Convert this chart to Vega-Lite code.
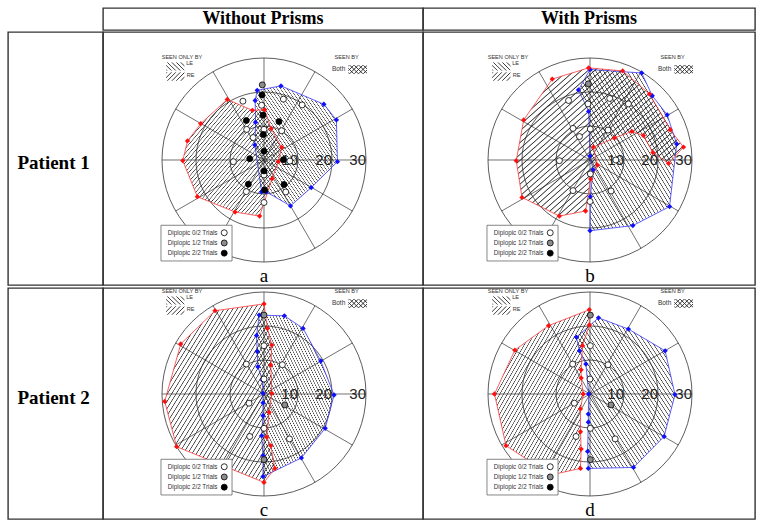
{
"$schema": "https://vega.github.io/schema/vega-lite/v6.json",
"padding": {"left": 7, "top": 7, "right": 0, "bottom": 0},
"background": "white",
"spacing": 0,
"config": {
 "view": {"stroke": "#333", "strokeWidth": 1.4},
 "axis": {"disable": true},
 "legend": {"disable": true},
 "concat": {"spacing": 0},
 "text": {"font": "Liberation Sans"},
 "style": {
  "hatchLE": {"fill": {"gradient": "linear", "x1": 0, "y1": 1, "x2": 1, "y2": 0, "stops": [
{"offset":0,"color":"transparent"},{"offset":0.0035,"color":"#333"},{"offset":0.007,"color":"transparent"},
{"offset":0.02,"color":"transparent"},{"offset":0.0235,"color":"#333"},{"offset":0.027,"color":"transparent"},
{"offset":0.04,"color":"transparent"},{"offset":0.0435,"color":"#333"},{"offset":0.047,"color":"transparent"},
{"offset":0.06,"color":"transparent"},{"offset":0.0635,"color":"#333"},{"offset":0.067,"color":"transparent"},
{"offset":0.08,"color":"transparent"},{"offset":0.0835,"color":"#333"},{"offset":0.087,"color":"transparent"},
{"offset":0.1,"color":"transparent"},{"offset":0.1035,"color":"#333"},{"offset":0.107,"color":"transparent"},
{"offset":0.12,"color":"transparent"},{"offset":0.1235,"color":"#333"},{"offset":0.127,"color":"transparent"},
{"offset":0.14,"color":"transparent"},{"offset":0.1435,"color":"#333"},{"offset":0.147,"color":"transparent"},
{"offset":0.16,"color":"transparent"},{"offset":0.1635,"color":"#333"},{"offset":0.167,"color":"transparent"},
{"offset":0.18,"color":"transparent"},{"offset":0.1835,"color":"#333"},{"offset":0.187,"color":"transparent"},
{"offset":0.2,"color":"transparent"},{"offset":0.2035,"color":"#333"},{"offset":0.207,"color":"transparent"},
{"offset":0.22,"color":"transparent"},{"offset":0.2235,"color":"#333"},{"offset":0.227,"color":"transparent"},
{"offset":0.24,"color":"transparent"},{"offset":0.2435,"color":"#333"},{"offset":0.247,"color":"transparent"},
{"offset":0.26,"color":"transparent"},{"offset":0.2635,"color":"#333"},{"offset":0.267,"color":"transparent"},
{"offset":0.28,"color":"transparent"},{"offset":0.2835,"color":"#333"},{"offset":0.287,"color":"transparent"},
{"offset":0.3,"color":"transparent"},{"offset":0.3035,"color":"#333"},{"offset":0.307,"color":"transparent"},
{"offset":0.32,"color":"transparent"},{"offset":0.3235,"color":"#333"},{"offset":0.327,"color":"transparent"},
{"offset":0.34,"color":"transparent"},{"offset":0.3435,"color":"#333"},{"offset":0.347,"color":"transparent"},
{"offset":0.36,"color":"transparent"},{"offset":0.3635,"color":"#333"},{"offset":0.367,"color":"transparent"},
{"offset":0.38,"color":"transparent"},{"offset":0.3835,"color":"#333"},{"offset":0.387,"color":"transparent"},
{"offset":0.4,"color":"transparent"},{"offset":0.4035,"color":"#333"},{"offset":0.407,"color":"transparent"},
{"offset":0.42,"color":"transparent"},{"offset":0.4235,"color":"#333"},{"offset":0.427,"color":"transparent"},
{"offset":0.44,"color":"transparent"},{"offset":0.4435,"color":"#333"},{"offset":0.447,"color":"transparent"},
{"offset":0.46,"color":"transparent"},{"offset":0.4635,"color":"#333"},{"offset":0.467,"color":"transparent"},
{"offset":0.48,"color":"transparent"},{"offset":0.4835,"color":"#333"},{"offset":0.487,"color":"transparent"},
{"offset":0.5,"color":"transparent"},{"offset":0.5035,"color":"#333"},{"offset":0.507,"color":"transparent"},
{"offset":0.52,"color":"transparent"},{"offset":0.5235,"color":"#333"},{"offset":0.527,"color":"transparent"},
{"offset":0.54,"color":"transparent"},{"offset":0.5435,"color":"#333"},{"offset":0.547,"color":"transparent"},
{"offset":0.56,"color":"transparent"},{"offset":0.5635,"color":"#333"},{"offset":0.567,"color":"transparent"},
{"offset":0.58,"color":"transparent"},{"offset":0.5835,"color":"#333"},{"offset":0.587,"color":"transparent"},
{"offset":0.6,"color":"transparent"},{"offset":0.6035,"color":"#333"},{"offset":0.607,"color":"transparent"},
{"offset":0.62,"color":"transparent"},{"offset":0.6235,"color":"#333"},{"offset":0.627,"color":"transparent"},
{"offset":0.64,"color":"transparent"},{"offset":0.6435,"color":"#333"},{"offset":0.647,"color":"transparent"},
{"offset":0.66,"color":"transparent"},{"offset":0.6635,"color":"#333"},{"offset":0.667,"color":"transparent"},
{"offset":0.68,"color":"transparent"},{"offset":0.6835,"color":"#333"},{"offset":0.687,"color":"transparent"},
{"offset":0.7,"color":"transparent"},{"offset":0.7035,"color":"#333"},{"offset":0.707,"color":"transparent"},
{"offset":0.72,"color":"transparent"},{"offset":0.7235,"color":"#333"},{"offset":0.727,"color":"transparent"},
{"offset":0.74,"color":"transparent"},{"offset":0.7435,"color":"#333"},{"offset":0.747,"color":"transparent"},
{"offset":0.76,"color":"transparent"},{"offset":0.7635,"color":"#333"},{"offset":0.767,"color":"transparent"},
{"offset":0.78,"color":"transparent"},{"offset":0.7835,"color":"#333"},{"offset":0.787,"color":"transparent"},
{"offset":0.8,"color":"transparent"},{"offset":0.8035,"color":"#333"},{"offset":0.807,"color":"transparent"},
{"offset":0.82,"color":"transparent"},{"offset":0.8235,"color":"#333"},{"offset":0.827,"color":"transparent"},
{"offset":0.84,"color":"transparent"},{"offset":0.8435,"color":"#333"},{"offset":0.847,"color":"transparent"},
{"offset":0.86,"color":"transparent"},{"offset":0.8635,"color":"#333"},{"offset":0.867,"color":"transparent"},
{"offset":0.88,"color":"transparent"},{"offset":0.8835,"color":"#333"},{"offset":0.887,"color":"transparent"},
{"offset":0.9,"color":"transparent"},{"offset":0.9035,"color":"#333"},{"offset":0.907,"color":"transparent"},
{"offset":0.92,"color":"transparent"},{"offset":0.9235,"color":"#333"},{"offset":0.927,"color":"transparent"},
{"offset":0.94,"color":"transparent"},{"offset":0.9435,"color":"#333"},{"offset":0.947,"color":"transparent"},
{"offset":0.96,"color":"transparent"},{"offset":0.9635,"color":"#333"},{"offset":0.967,"color":"transparent"},
{"offset":0.98,"color":"transparent"},{"offset":0.9835,"color":"#333"},{"offset":0.987,"color":"transparent"}]}},
  "hatchRE": {"fill": {"gradient": "linear", "x1": 0, "y1": 0, "x2": 1, "y2": 1, "stops": [
{"offset":0,"color":"transparent"},{"offset":0.0035,"color":"#333"},{"offset":0.007,"color":"transparent"},
{"offset":0.02,"color":"transparent"},{"offset":0.0235,"color":"#333"},{"offset":0.027,"color":"transparent"},
{"offset":0.04,"color":"transparent"},{"offset":0.0435,"color":"#333"},{"offset":0.047,"color":"transparent"},
{"offset":0.06,"color":"transparent"},{"offset":0.0635,"color":"#333"},{"offset":0.067,"color":"transparent"},
{"offset":0.08,"color":"transparent"},{"offset":0.0835,"color":"#333"},{"offset":0.087,"color":"transparent"},
{"offset":0.1,"color":"transparent"},{"offset":0.1035,"color":"#333"},{"offset":0.107,"color":"transparent"},
{"offset":0.12,"color":"transparent"},{"offset":0.1235,"color":"#333"},{"offset":0.127,"color":"transparent"},
{"offset":0.14,"color":"transparent"},{"offset":0.1435,"color":"#333"},{"offset":0.147,"color":"transparent"},
{"offset":0.16,"color":"transparent"},{"offset":0.1635,"color":"#333"},{"offset":0.167,"color":"transparent"},
{"offset":0.18,"color":"transparent"},{"offset":0.1835,"color":"#333"},{"offset":0.187,"color":"transparent"},
{"offset":0.2,"color":"transparent"},{"offset":0.2035,"color":"#333"},{"offset":0.207,"color":"transparent"},
{"offset":0.22,"color":"transparent"},{"offset":0.2235,"color":"#333"},{"offset":0.227,"color":"transparent"},
{"offset":0.24,"color":"transparent"},{"offset":0.2435,"color":"#333"},{"offset":0.247,"color":"transparent"},
{"offset":0.26,"color":"transparent"},{"offset":0.2635,"color":"#333"},{"offset":0.267,"color":"transparent"},
{"offset":0.28,"color":"transparent"},{"offset":0.2835,"color":"#333"},{"offset":0.287,"color":"transparent"},
{"offset":0.3,"color":"transparent"},{"offset":0.3035,"color":"#333"},{"offset":0.307,"color":"transparent"},
{"offset":0.32,"color":"transparent"},{"offset":0.3235,"color":"#333"},{"offset":0.327,"color":"transparent"},
{"offset":0.34,"color":"transparent"},{"offset":0.3435,"color":"#333"},{"offset":0.347,"color":"transparent"},
{"offset":0.36,"color":"transparent"},{"offset":0.3635,"color":"#333"},{"offset":0.367,"color":"transparent"},
{"offset":0.38,"color":"transparent"},{"offset":0.3835,"color":"#333"},{"offset":0.387,"color":"transparent"},
{"offset":0.4,"color":"transparent"},{"offset":0.4035,"color":"#333"},{"offset":0.407,"color":"transparent"},
{"offset":0.42,"color":"transparent"},{"offset":0.4235,"color":"#333"},{"offset":0.427,"color":"transparent"},
{"offset":0.44,"color":"transparent"},{"offset":0.4435,"color":"#333"},{"offset":0.447,"color":"transparent"},
{"offset":0.46,"color":"transparent"},{"offset":0.4635,"color":"#333"},{"offset":0.467,"color":"transparent"},
{"offset":0.48,"color":"transparent"},{"offset":0.4835,"color":"#333"},{"offset":0.487,"color":"transparent"},
{"offset":0.5,"color":"transparent"},{"offset":0.5035,"color":"#333"},{"offset":0.507,"color":"transparent"},
{"offset":0.52,"color":"transparent"},{"offset":0.5235,"color":"#333"},{"offset":0.527,"color":"transparent"},
{"offset":0.54,"color":"transparent"},{"offset":0.5435,"color":"#333"},{"offset":0.547,"color":"transparent"},
{"offset":0.56,"color":"transparent"},{"offset":0.5635,"color":"#333"},{"offset":0.567,"color":"transparent"},
{"offset":0.58,"color":"transparent"},{"offset":0.5835,"color":"#333"},{"offset":0.587,"color":"transparent"},
{"offset":0.6,"color":"transparent"},{"offset":0.6035,"color":"#333"},{"offset":0.607,"color":"transparent"},
{"offset":0.62,"color":"transparent"},{"offset":0.6235,"color":"#333"},{"offset":0.627,"color":"transparent"},
{"offset":0.64,"color":"transparent"},{"offset":0.6435,"color":"#333"},{"offset":0.647,"color":"transparent"},
{"offset":0.66,"color":"transparent"},{"offset":0.6635,"color":"#333"},{"offset":0.667,"color":"transparent"},
{"offset":0.68,"color":"transparent"},{"offset":0.6835,"color":"#333"},{"offset":0.687,"color":"transparent"},
{"offset":0.7,"color":"transparent"},{"offset":0.7035,"color":"#333"},{"offset":0.707,"color":"transparent"},
{"offset":0.72,"color":"transparent"},{"offset":0.7235,"color":"#333"},{"offset":0.727,"color":"transparent"},
{"offset":0.74,"color":"transparent"},{"offset":0.7435,"color":"#333"},{"offset":0.747,"color":"transparent"},
{"offset":0.76,"color":"transparent"},{"offset":0.7635,"color":"#333"},{"offset":0.767,"color":"transparent"},
{"offset":0.78,"color":"transparent"},{"offset":0.7835,"color":"#333"},{"offset":0.787,"color":"transparent"},
{"offset":0.8,"color":"transparent"},{"offset":0.8035,"color":"#333"},{"offset":0.807,"color":"transparent"},
{"offset":0.82,"color":"transparent"},{"offset":0.8235,"color":"#333"},{"offset":0.827,"color":"transparent"},
{"offset":0.84,"color":"transparent"},{"offset":0.8435,"color":"#333"},{"offset":0.847,"color":"transparent"},
{"offset":0.86,"color":"transparent"},{"offset":0.8635,"color":"#333"},{"offset":0.867,"color":"transparent"},
{"offset":0.88,"color":"transparent"},{"offset":0.8835,"color":"#333"},{"offset":0.887,"color":"transparent"},
{"offset":0.9,"color":"transparent"},{"offset":0.9035,"color":"#333"},{"offset":0.907,"color":"transparent"},
{"offset":0.92,"color":"transparent"},{"offset":0.9235,"color":"#333"},{"offset":0.927,"color":"transparent"},
{"offset":0.94,"color":"transparent"},{"offset":0.9435,"color":"#333"},{"offset":0.947,"color":"transparent"},
{"offset":0.96,"color":"transparent"},{"offset":0.9635,"color":"#333"},{"offset":0.967,"color":"transparent"},
{"offset":0.98,"color":"transparent"},{"offset":0.9835,"color":"#333"},{"offset":0.987,"color":"transparent"}]}}
 }
},
"datasets": {
 "one": [{}],
 "rings": [{"r": 10}, {"r": 20}, {"r": 30}],
 "spokes": [
  {"x": 30, "y": 0, "x2": -30, "y2": 0},
  {"x": 25.98, "y": 15, "x2": -25.98, "y2": -15},
  {"x": 15, "y": 25.98, "x2": -15, "y2": -25.98},
  {"x": 0, "y": 30, "x2": 0, "y2": -30},
  {"x": -15, "y": 25.98, "x2": 15, "y2": -25.98},
  {"x": -25.98, "y": 15, "x2": 25.98, "y2": -15}
 ],
 "a": [
  {"s":"LE","x":-2.0,"y":20.5},{"s":"LE","x":5.0,"y":21.8},{"s":"LE","x":17.6,"y":16.4},{"s":"LE","x":21.3,"y":11.8},{"s":"LE","x":21.6,"y":-0.5},{"s":"LE","x":13.9,"y":-8.1},{"s":"LE","x":7.8,"y":-13.5},{"s":"LE","x":0.7,"y":-9.4},{"s":"LE","x":-0.7,"y":-9.4},{"s":"LE","x":-2.7,"y":4.4},{"s":"LE","x":-2.5,"y":11.1},{"s":"LE","x":-2.6,"y":17.5},
  {"s":"RE","x":-10.8,"y":17.8},{"s":"RE","x":-3.4,"y":14.6},{"s":"RE","x":0.2,"y":14.8},{"s":"RE","x":2.1,"y":9.2},{"s":"RE","x":5.2,"y":3.7},{"s":"RE","x":4.2,"y":-0.5},{"s":"RE","x":2.4,"y":-5.5},{"s":"RE","x":-1.3,"y":-16.5},{"s":"RE","x":-8.5,"y":-15.3},{"s":"RE","x":-19.6,"y":-10.8},{"s":"RE","x":-23.9,"y":-0.2},{"s":"RE","x":-22.5,"y":5.6},{"s":"RE","x":-18.6,"y":10.7},
  {"s":"T","x":-6.2,"y":17.3,"d":"0/2"},{"s":"T","x":-0.7,"y":16.1,"d":"0/2"},{"s":"T","x":5.7,"y":17.9,"d":"0/2"},{"s":"T","x":11.2,"y":16.2,"d":"0/2"},{"s":"T","x":-5.1,"y":9.0,"d":"0/2"},{"s":"T","x":0,"y":9.0,"d":"0/2"},{"s":"T","x":5.2,"y":8.6,"d":"0/2"},{"s":"T","x":-3.2,"y":6.6,"d":"0/2"},{"s":"T","x":-9.0,"y":-0.5,"d":"0/2"},{"s":"T","x":7.6,"y":-0.3,"d":"0/2"},{"s":"T","x":0,"y":-4.4,"d":"0/2"},{"s":"T","x":-5.2,"y":-9.3,"d":"0/2"},{"s":"T","x":6.4,"y":-9.4,"d":"0/2"},{"s":"T","x":0,"y":-12.5,"d":"0/2"},
  {"s":"T","x":-0.5,"y":22.1,"d":"1/2"},
  {"s":"T","x":-0.6,"y":19.1,"d":"2/2"},{"s":"T","x":-0.3,"y":13.2,"d":"2/2"},{"s":"T","x":-5.2,"y":11.6,"d":"2/2"},{"s":"T","x":4.4,"y":11.3,"d":"2/2"},{"s":"T","x":-0.2,"y":7.5,"d":"2/2"},{"s":"T","x":0,"y":2.6,"d":"2/2"},{"s":"T","x":-4.2,"y":0.4,"d":"2/2"},{"s":"T","x":5.7,"y":0.1,"d":"2/2"},{"s":"T","x":0,"y":-3.2,"d":"2/2"},{"s":"T","x":-4.6,"y":-7.1,"d":"2/2"},{"s":"T","x":5.9,"y":-7.2,"d":"2/2"},{"s":"T","x":0.2,"y":-8.8,"d":"2/2"}
 ],
 "b": [
  {"s":"LE","x":0,"y":26.6},{"s":"LE","x":15.2,"y":25.6},{"s":"LE","x":18.3,"y":18.9},{"s":"LE","x":22.7,"y":13.3},{"s":"LE","x":25.5,"y":4.7},{"s":"LE","x":23.4,"y":-13.7},{"s":"LE","x":12.6,"y":-19.3},{"s":"LE","x":0,"y":-20.8},{"s":"LE","x":0.1,"y":-10.8},{"s":"LE","x":0.9,"y":-2.9},{"s":"LE","x":0,"y":1.2},{"s":"LE","x":-0.4,"y":14.3},{"s":"LE","x":-3.4,"y":20.6},
  {"s":"RE","x":-0.4,"y":27.1},{"s":"RE","x":9.6,"y":26.2},{"s":"RE","x":17.5,"y":19.4},{"s":"RE","x":23.6,"y":8.9},{"s":"RE","x":27.5,"y":3.8},{"s":"RE","x":23.1,"y":-1.0},{"s":"RE","x":18.5,"y":2.2},{"s":"RE","x":15.7,"y":7.2},{"s":"RE","x":12.3,"y":8.4},{"s":"RE","x":7.2,"y":6.5},{"s":"RE","x":1.0,"y":3.8},{"s":"RE","x":2.2,"y":-1.5},{"s":"RE","x":0.2,"y":-5.6},{"s":"RE","x":-1.3,"y":-15.0},{"s":"RE","x":-9.0,"y":-16.5},{"s":"RE","x":-20.0,"y":-11.0},{"s":"RE","x":-21.7,"y":-0.2},{"s":"RE","x":-19.5,"y":11.8},{"s":"RE","x":-11.1,"y":23.8},
  {"s":"T","x":-6.3,"y":17.5,"d":"0/2"},{"s":"T","x":-0.6,"y":16.5,"d":"0/2"},{"s":"T","x":5.8,"y":18.1,"d":"0/2"},{"s":"T","x":11.3,"y":16.5,"d":"0/2"},{"s":"T","x":-5.0,"y":9.3,"d":"0/2"},{"s":"T","x":0.1,"y":9.1,"d":"0/2"},{"s":"T","x":5.3,"y":8.8,"d":"0/2"},{"s":"T","x":-3.1,"y":6.9,"d":"0/2"},{"s":"T","x":-9.0,"y":-0.2,"d":"0/2"},{"s":"T","x":7.6,"y":0,"d":"0/2"},{"s":"T","x":0.1,"y":-4.1,"d":"0/2"},{"s":"T","x":-5.0,"y":-9.0,"d":"0/2"},{"s":"T","x":6.2,"y":-9.1,"d":"0/2"},{"s":"T","x":0,"y":-12.2,"d":"0/2"},
  {"s":"T","x":-0.5,"y":22.4,"d":"1/2"}
 ],
 "c": [
  {"s":"LE","x":-1.4,"y":23.2},{"s":"LE","x":6.0,"y":23.0},{"s":"LE","x":11.5,"y":19.3},{"s":"LE","x":16.7,"y":9.7},{"s":"LE","x":20.6,"y":-0.3},{"s":"LE","x":18.0,"y":-10.1},{"s":"LE","x":11.0,"y":-18.8},{"s":"LE","x":-0.3,"y":-24.3},{"s":"LE","x":-0.3,"y":-18.1},{"s":"LE","x":-0.7,"y":-12.3},{"s":"LE","x":-0.3,"y":-6.4},{"s":"LE","x":-0.3,"y":-2.6},{"s":"LE","x":-0.3,"y":0.2},{"s":"LE","x":-0.5,"y":4.1},{"s":"LE","x":-1.8,"y":8.0},{"s":"LE","x":-2.0,"y":12.5},{"s":"LE","x":-2.2,"y":17.2},
  {"s":"RE","x":0,"y":26.5},{"s":"RE","x":1.0,"y":19.3},{"s":"RE","x":2.3,"y":14.4},{"s":"RE","x":2.0,"y":8.5},{"s":"RE","x":2.3,"y":0.2},{"s":"RE","x":1.5,"y":-5.4},{"s":"RE","x":0.8,"y":-12.7},{"s":"RE","x":2.0,"y":-15.2},{"s":"RE","x":3.2,"y":-21.9},{"s":"RE","x":0,"y":-26.0},{"s":"RE","x":-25.7,"y":-15.5},{"s":"RE","x":-29.2,"y":-2.2},{"s":"RE","x":-24.5,"y":14.7},{"s":"RE","x":-14.4,"y":24.5},
  {"s":"T","x":0,"y":23.2,"d":"1/2"},{"s":"T","x":0,"y":14.2,"d":"0/2"},{"s":"T","x":-5.2,"y":8.8,"d":"0/2"},{"s":"T","x":5.4,"y":8.6,"d":"0/2"},{"s":"T","x":0,"y":4.4,"d":"0/2"},{"s":"T","x":-4.4,"y":-2.7,"d":"0/2"},{"s":"T","x":6.1,"y":-3.2,"d":"1/2"},{"s":"T","x":0,"y":-10.1,"d":"0/2"},{"s":"T","x":-4.2,"y":-12.5,"d":"0/2"},{"s":"T","x":7.5,"y":-13.2,"d":"0/2"},{"s":"T","x":0,"y":-19.3,"d":"1/2"}
 ],
 "d": [
  {"s":"LE","x":2.5,"y":22.4},{"s":"LE","x":11.3,"y":19.1},{"s":"LE","x":22.1,"y":12.7},{"s":"LE","x":25.0,"y":-0.2},{"s":"LE","x":21.8,"y":-12.5},{"s":"LE","x":12.8,"y":-21.6},{"s":"LE","x":-0.5,"y":-21.9},{"s":"LE","x":-0.7,"y":-16.9},{"s":"LE","x":-0.5,"y":-8.3},{"s":"LE","x":-0.5,"y":-5.9},{"s":"LE","x":-0.4,"y":0},{"s":"LE","x":-1.2,"y":8.8},{"s":"LE","x":-3.1,"y":12.7},{"s":"LE","x":-4.0,"y":16.7},
  {"s":"RE","x":-0.2,"y":24.8},{"s":"RE","x":-0.2,"y":20.3},{"s":"RE","x":-2.2,"y":14.2},{"s":"RE","x":-2.6,"y":7.1},{"s":"RE","x":-2.6,"y":4.7},{"s":"RE","x":-2.0,"y":0},{"s":"RE","x":-2.8,"y":-4.4},{"s":"RE","x":-2.8,"y":-11.1},{"s":"RE","x":-2.6,"y":-16.2},{"s":"RE","x":-2.8,"y":-21.9},{"s":"RE","x":-11.5,"y":-23.8},{"s":"RE","x":-24.7,"y":-15.2},{"s":"RE","x":-28.1,"y":0},{"s":"RE","x":-22.1,"y":12.9},{"s":"RE","x":-12.2,"y":20.1},
  {"s":"T","x":0.1,"y":23.2,"d":"1/2"},{"s":"T","x":0.1,"y":14.2,"d":"0/2"},{"s":"T","x":-5.1,"y":8.8,"d":"0/2"},{"s":"T","x":5.3,"y":8.6,"d":"0/2"},{"s":"T","x":0,"y":4.4,"d":"0/2"},{"s":"T","x":-4.6,"y":-2.7,"d":"0/2"},{"s":"T","x":6.2,"y":-3.2,"d":"1/2"},{"s":"T","x":0.1,"y":-10.1,"d":"0/2"},{"s":"T","x":-4.1,"y":-12.5,"d":"0/2"},{"s":"T","x":7.4,"y":-13.2,"d":"0/2"},{"s":"T","x":0.1,"y":-19.3,"d":"1/2"}
 ]
},
"vconcat": [
 {"spacing": 0, "bounds": "flush", "hconcat": [
  {"width": 95, "height": 22, "data": {"name": "one"}, "mark": {"type": "text", "text": ""}, "encoding": {}},
  {"width": 320, "height": 22, "data": {"name": "one"}, "mark": {"type": "text", "text": "Without Prisms", "font": "Liberation Serif", "fontWeight": "bold", "fontSize": 18, "align": "center", "baseline": "middle"},
   "encoding": {"x": {"datum": 0.5, "type": "quantitative", "scale": {"domain": [0, 1]}}, "y": {"datum": 0.5, "type": "quantitative", "scale": {"domain": [0, 1]}}}},
  {"width": 332, "height": 22, "data": {"name": "one"}, "mark": {"type": "text", "text": "With Prisms", "font": "Liberation Serif", "fontWeight": "bold", "fontSize": 18, "align": "center", "baseline": "middle"},
   "encoding": {"x": {"datum": 0.5, "type": "quantitative", "scale": {"domain": [0, 1]}}, "y": {"datum": 0.5, "type": "quantitative", "scale": {"domain": [0, 1]}}}}
 ]},
 {"spacing": 0, "bounds": "flush", "hconcat": [
  {"width": 95, "height": 253, "data": {"name": "one"}, "mark": {"type": "text", "text": "Patient 1", "font": "Liberation Serif", "fontWeight": "bold", "fontSize": 19, "align": "center", "baseline": "middle"},
   "encoding": {"x": {"datum": 0.48, "type": "quantitative", "scale": {"domain": [0, 1]}}, "y": {"datum": 0.482, "type": "quantitative", "scale": {"domain": [0, 1]}}}},
  {"width": 320, "height": 253, "layer": [
   {"data": {"name": "rings"}, "mark": {"type": "point", "shape": "circle", "filled": false, "stroke": "#333", "strokeWidth": 0.8, "opacity": 1},
    "encoding": {"x": {"datum": 0, "type": "quantitative", "scale": {"domain": [-47.353, 46.765], "nice": false, "zero": false}}, "y": {"datum": 0, "type": "quantitative", "scale": {"domain": [-36.765, 37.647], "nice": false, "zero": false}}, "size": {"field": "r", "type": "quantitative", "scale": {"type": "pow", "exponent": 2, "domain": [0, 30], "range": [0, 41616]}}}},
   {"data": {"name": "spokes"}, "mark": {"type": "rule", "stroke": "#333", "strokeWidth": 0.7}, "encoding": {"x": {"field": "x", "type": "quantitative"}, "y": {"field": "y", "type": "quantitative"}, "x2": {"field": "x2"}, "y2": {"field": "y2"}}},
   {"data": {"name": "a"}, "transform": [{"filter": "datum.s == 'LE'"}], "mark": {"type": "line", "style": "hatchLE", "stroke": "#3a3aff", "strokeWidth": 0.8, "interpolate": "linear-closed"}, "encoding": {"x": {"field": "x", "type": "quantitative"}, "y": {"field": "y", "type": "quantitative"}, "order": {"value": null}}},
   {"data": {"name": "a"}, "transform": [{"filter": "datum.s == 'RE'"}], "mark": {"type": "line", "style": "hatchRE", "stroke": "#ff3a3a", "strokeWidth": 0.8, "interpolate": "linear-closed"}, "encoding": {"x": {"field": "x", "type": "quantitative"}, "y": {"field": "y", "type": "quantitative"}, "order": {"value": null}}},
   {"data": {"name": "a"}, "transform": [{"filter": "datum.s == 'LE'"}], "mark": {"type": "point", "shape": "diamond", "filled": true, "color": "#1010ff", "size": 28, "opacity": 1}, "encoding": {"x": {"field": "x", "type": "quantitative"}, "y": {"field": "y", "type": "quantitative"}}},
   {"data": {"name": "a"}, "transform": [{"filter": "datum.s == 'RE'"}], "mark": {"type": "point", "shape": "diamond", "filled": true, "color": "#ff1010", "size": 28, "opacity": 1}, "encoding": {"x": {"field": "x", "type": "quantitative"}, "y": {"field": "y", "type": "quantitative"}}},
   {"data": {"name": "rings"}, "mark": {"type": "text", "align": "right", "baseline": "middle", "fontSize": 15, "color": "#222"}, "encoding": {"x": {"field": "r", "type": "quantitative"}, "y": {"datum": 0, "type": "quantitative"}, "text": {"field": "r"}}},
   {"data": {"name": "a"}, "transform": [{"filter": "datum.s == 'T'"}], "mark": {"type": "point", "shape": "circle", "filled": true, "stroke": "#000", "strokeWidth": 0.8, "size": 36, "opacity": 1}, "encoding": {"x": {"field": "x", "type": "quantitative"}, "y": {"field": "y", "type": "quantitative"}, "fill": {"field": "d", "type": "nominal", "scale": {"domain": ["0/2", "1/2", "2/2"], "range": ["#ffffff", "#8c8c8c", "#000000"]}}}},
   {"data": {"name": "one"}, "mark": {"type": "text", "text": "SEEN ONLY BY", "align": "left", "baseline": "middle", "fontSize": 5.6, "color": "#333"}, "encoding": {"x": {"datum": -30.1, "type": "quantitative"}, "y": {"datum": 30.3, "type": "quantitative"}}},
   {"data": {"name": "one"}, "mark": {"type": "rect", "fill": {"gradient": "linear", "x1": 0, "y1": 1, "x2": 1.2, "y2": 0.45, "stops": [{"offset":0,"color":"transparent"},{"offset":0.033,"color":"#333"},{"offset":0.067,"color":"transparent"},{"offset":0.167,"color":"transparent"},{"offset":0.2,"color":"#333"},{"offset":0.233,"color":"transparent"},{"offset":0.333,"color":"transparent"},{"offset":0.367,"color":"#333"},{"offset":0.4,"color":"transparent"},{"offset":0.5,"color":"transparent"},{"offset":0.533,"color":"#333"},{"offset":0.567,"color":"transparent"},{"offset":0.667,"color":"transparent"},{"offset":0.7,"color":"#333"},{"offset":0.733,"color":"transparent"},{"offset":0.833,"color":"transparent"},{"offset":0.867,"color":"#333"},{"offset":0.9,"color":"transparent"}]}}, "encoding": {"x": {"datum": -28.8, "type": "quantitative"}, "x2": {"datum": -23.4}, "y": {"datum": 28.7, "type": "quantitative"}, "y2": {"datum": 26.3}}},
   {"data": {"name": "one"}, "mark": {"type": "text", "text": "LE", "align": "left", "baseline": "middle", "fontSize": 5.6, "color": "#333"}, "encoding": {"x": {"datum": -22.9, "type": "quantitative"}, "y": {"datum": 28.6, "type": "quantitative"}}},
   {"data": {"name": "one"}, "mark": {"type": "rect", "fill": {"gradient": "linear", "x1": 0, "y1": 0, "x2": 1.2, "y2": 0.55, "stops": [{"offset":0,"color":"transparent"},{"offset":0.033,"color":"#333"},{"offset":0.067,"color":"transparent"},{"offset":0.167,"color":"transparent"},{"offset":0.2,"color":"#333"},{"offset":0.233,"color":"transparent"},{"offset":0.333,"color":"transparent"},{"offset":0.367,"color":"#333"},{"offset":0.4,"color":"transparent"},{"offset":0.5,"color":"transparent"},{"offset":0.533,"color":"#333"},{"offset":0.567,"color":"transparent"},{"offset":0.667,"color":"transparent"},{"offset":0.7,"color":"#333"},{"offset":0.733,"color":"transparent"},{"offset":0.833,"color":"transparent"},{"offset":0.867,"color":"#333"},{"offset":0.9,"color":"transparent"}]}}, "encoding": {"x": {"datum": -28.8, "type": "quantitative"}, "x2": {"datum": -23.4}, "y": {"datum": 25.8, "type": "quantitative"}, "y2": {"datum": 23.3}}},
   {"data": {"name": "one"}, "mark": {"type": "text", "text": "RE", "align": "left", "baseline": "middle", "fontSize": 5.6, "color": "#333"}, "encoding": {"x": {"datum": -22.7, "type": "quantitative"}, "y": {"datum": 25.1, "type": "quantitative"}}},
   {"data": {"name": "one"}, "mark": {"type": "text", "text": "SEEN BY", "align": "center", "baseline": "middle", "fontSize": 5.6, "color": "#333"}, "encoding": {"x": {"datum": 24.3, "type": "quantitative"}, "y": {"datum": 30.2, "type": "quantitative"}}},
   {"data": {"name": "one"}, "mark": {"type": "text", "text": "Both", "align": "right", "baseline": "middle", "fontSize": 6.5, "color": "#333"}, "encoding": {"x": {"datum": 23.9, "type": "quantitative"}, "y": {"datum": 26.8, "type": "quantitative"}}},
   {"data": {"name": "one"}, "mark": {"type": "rect", "fill": {"gradient": "linear", "x1": 0, "y1": 1, "x2": 1.2, "y2": 0.45, "stops": [{"offset":0,"color":"transparent"},{"offset":0.033,"color":"#333"},{"offset":0.067,"color":"transparent"},{"offset":0.167,"color":"transparent"},{"offset":0.2,"color":"#333"},{"offset":0.233,"color":"transparent"},{"offset":0.333,"color":"transparent"},{"offset":0.367,"color":"#333"},{"offset":0.4,"color":"transparent"},{"offset":0.5,"color":"transparent"},{"offset":0.533,"color":"#333"},{"offset":0.567,"color":"transparent"},{"offset":0.667,"color":"transparent"},{"offset":0.7,"color":"#333"},{"offset":0.733,"color":"transparent"},{"offset":0.833,"color":"transparent"},{"offset":0.867,"color":"#333"},{"offset":0.9,"color":"transparent"}]}}, "encoding": {"x": {"datum": 24.8, "type": "quantitative"}, "x2": {"datum": 30.3}, "y": {"datum": 27.9, "type": "quantitative"}, "y2": {"datum": 25.4}}},
   {"data": {"name": "one"}, "mark": {"type": "rect", "fill": {"gradient": "linear", "x1": 0, "y1": 0, "x2": 1.2, "y2": 0.55, "stops": [{"offset":0,"color":"transparent"},{"offset":0.033,"color":"#333"},{"offset":0.067,"color":"transparent"},{"offset":0.167,"color":"transparent"},{"offset":0.2,"color":"#333"},{"offset":0.233,"color":"transparent"},{"offset":0.333,"color":"transparent"},{"offset":0.367,"color":"#333"},{"offset":0.4,"color":"transparent"},{"offset":0.5,"color":"transparent"},{"offset":0.533,"color":"#333"},{"offset":0.567,"color":"transparent"},{"offset":0.667,"color":"transparent"},{"offset":0.7,"color":"#333"},{"offset":0.733,"color":"transparent"},{"offset":0.833,"color":"transparent"},{"offset":0.867,"color":"#333"},{"offset":0.9,"color":"transparent"}]}}, "encoding": {"x": {"datum": 24.8, "type": "quantitative"}, "x2": {"datum": 30.3}, "y": {"datum": 27.9, "type": "quantitative"}, "y2": {"datum": 25.4}}},
   {"data": {"name": "one"}, "mark": {"type": "rect", "fill": "white", "stroke": "#666", "strokeWidth": 0.8}, "encoding": {"x": {"datum": -30.3, "type": "quantitative"}, "x2": {"datum": -9.4}, "y": {"datum": -19.2, "type": "quantitative"}, "y2": {"datum": -29.7}}},
   {"data": {"name": "one"}, "mark": {"type": "text", "text": "Diplopic 0/2 Trials", "align": "left", "baseline": "middle", "fontSize": 6.3, "color": "#333"}, "encoding": {"x": {"datum": -28.3, "type": "quantitative"}, "y": {"datum": -21.4, "type": "quantitative"}}},
   {"data": {"name": "one"}, "mark": {"type": "text", "text": "Diplopic 1/2 Trials", "align": "left", "baseline": "middle", "fontSize": 6.3, "color": "#333"}, "encoding": {"x": {"datum": -28.3, "type": "quantitative"}, "y": {"datum": -24.4, "type": "quantitative"}}},
   {"data": {"name": "one"}, "mark": {"type": "text", "text": "Diplopic 2/2 Trials", "align": "left", "baseline": "middle", "fontSize": 6.3, "color": "#333"}, "encoding": {"x": {"datum": -28.3, "type": "quantitative"}, "y": {"datum": -27.4, "type": "quantitative"}}},
   {"data": {"name": "one"}, "mark": {"type": "point", "shape": "circle", "filled": true, "fill": "#ffffff", "stroke": "#000", "strokeWidth": 0.8, "size": 36, "opacity": 1}, "encoding": {"x": {"datum": -11.7, "type": "quantitative"}, "y": {"datum": -21.4, "type": "quantitative"}}},
   {"data": {"name": "one"}, "mark": {"type": "point", "shape": "circle", "filled": true, "fill": "#8c8c8c", "stroke": "#000", "strokeWidth": 0.8, "size": 36, "opacity": 1}, "encoding": {"x": {"datum": -11.7, "type": "quantitative"}, "y": {"datum": -24.4, "type": "quantitative"}}},
   {"data": {"name": "one"}, "mark": {"type": "point", "shape": "circle", "filled": true, "fill": "#000000", "stroke": "#000", "strokeWidth": 0.8, "size": 36, "opacity": 1}, "encoding": {"x": {"datum": -11.7, "type": "quantitative"}, "y": {"datum": -27.4, "type": "quantitative"}}},
   {"data": {"name": "one"}, "mark": {"type": "text", "text": "a", "align": "center", "baseline": "middle", "fontSize": 19, "font": "Liberation Serif", "color": "#000"}, "encoding": {"x": {"datum": 0, "type": "quantitative"}, "y": {"datum": -34.1, "type": "quantitative"}}}
  ]},
  {"width": 332, "height": 253, "layer": [
   {"data": {"name": "rings"}, "mark": {"type": "point", "shape": "circle", "filled": false, "stroke": "#333", "strokeWidth": 0.8, "opacity": 1},
    "encoding": {"x": {"datum": 0, "type": "quantitative", "scale": {"domain": [-49.118, 48.529], "nice": false, "zero": false}}, "y": {"datum": 0, "type": "quantitative", "scale": {"domain": [-36.765, 37.647], "nice": false, "zero": false}}, "size": {"field": "r", "type": "quantitative", "scale": {"type": "pow", "exponent": 2, "domain": [0, 30], "range": [0, 41616]}}}},
   {"data": {"name": "spokes"}, "mark": {"type": "rule", "stroke": "#333", "strokeWidth": 0.7}, "encoding": {"x": {"field": "x", "type": "quantitative"}, "y": {"field": "y", "type": "quantitative"}, "x2": {"field": "x2"}, "y2": {"field": "y2"}}},
   {"data": {"name": "b"}, "transform": [{"filter": "datum.s == 'LE'"}], "mark": {"type": "line", "style": "hatchLE", "stroke": "#3a3aff", "strokeWidth": 0.8, "interpolate": "linear-closed"}, "encoding": {"x": {"field": "x", "type": "quantitative"}, "y": {"field": "y", "type": "quantitative"}, "order": {"value": null}}},
   {"data": {"name": "b"}, "transform": [{"filter": "datum.s == 'RE'"}], "mark": {"type": "line", "style": "hatchRE", "stroke": "#ff3a3a", "strokeWidth": 0.8, "interpolate": "linear-closed"}, "encoding": {"x": {"field": "x", "type": "quantitative"}, "y": {"field": "y", "type": "quantitative"}, "order": {"value": null}}},
   {"data": {"name": "b"}, "transform": [{"filter": "datum.s == 'LE'"}], "mark": {"type": "point", "shape": "diamond", "filled": true, "color": "#1010ff", "size": 28, "opacity": 1}, "encoding": {"x": {"field": "x", "type": "quantitative"}, "y": {"field": "y", "type": "quantitative"}}},
   {"data": {"name": "b"}, "transform": [{"filter": "datum.s == 'RE'"}], "mark": {"type": "point", "shape": "diamond", "filled": true, "color": "#ff1010", "size": 28, "opacity": 1}, "encoding": {"x": {"field": "x", "type": "quantitative"}, "y": {"field": "y", "type": "quantitative"}}},
   {"data": {"name": "rings"}, "mark": {"type": "text", "align": "right", "baseline": "middle", "fontSize": 15, "color": "#222"}, "encoding": {"x": {"field": "r", "type": "quantitative"}, "y": {"datum": 0, "type": "quantitative"}, "text": {"field": "r"}}},
   {"data": {"name": "b"}, "transform": [{"filter": "datum.s == 'T'"}], "mark": {"type": "point", "shape": "circle", "filled": true, "stroke": "#000", "strokeWidth": 0.8, "size": 36, "opacity": 1}, "encoding": {"x": {"field": "x", "type": "quantitative"}, "y": {"field": "y", "type": "quantitative"}, "fill": {"field": "d", "type": "nominal", "scale": {"domain": ["0/2", "1/2", "2/2"], "range": ["#ffffff", "#8c8c8c", "#000000"]}}}},
   {"data": {"name": "one"}, "mark": {"type": "text", "text": "SEEN ONLY BY", "align": "left", "baseline": "middle", "fontSize": 5.6, "color": "#333"}, "encoding": {"x": {"datum": -30.1, "type": "quantitative"}, "y": {"datum": 30.3, "type": "quantitative"}}},
   {"data": {"name": "one"}, "mark": {"type": "rect", "fill": {"gradient": "linear", "x1": 0, "y1": 1, "x2": 1.2, "y2": 0.45, "stops": [{"offset":0,"color":"transparent"},{"offset":0.033,"color":"#333"},{"offset":0.067,"color":"transparent"},{"offset":0.167,"color":"transparent"},{"offset":0.2,"color":"#333"},{"offset":0.233,"color":"transparent"},{"offset":0.333,"color":"transparent"},{"offset":0.367,"color":"#333"},{"offset":0.4,"color":"transparent"},{"offset":0.5,"color":"transparent"},{"offset":0.533,"color":"#333"},{"offset":0.567,"color":"transparent"},{"offset":0.667,"color":"transparent"},{"offset":0.7,"color":"#333"},{"offset":0.733,"color":"transparent"},{"offset":0.833,"color":"transparent"},{"offset":0.867,"color":"#333"},{"offset":0.9,"color":"transparent"}]}}, "encoding": {"x": {"datum": -28.8, "type": "quantitative"}, "x2": {"datum": -23.4}, "y": {"datum": 28.7, "type": "quantitative"}, "y2": {"datum": 26.3}}},
   {"data": {"name": "one"}, "mark": {"type": "text", "text": "LE", "align": "left", "baseline": "middle", "fontSize": 5.6, "color": "#333"}, "encoding": {"x": {"datum": -22.9, "type": "quantitative"}, "y": {"datum": 28.6, "type": "quantitative"}}},
   {"data": {"name": "one"}, "mark": {"type": "rect", "fill": {"gradient": "linear", "x1": 0, "y1": 0, "x2": 1.2, "y2": 0.55, "stops": [{"offset":0,"color":"transparent"},{"offset":0.033,"color":"#333"},{"offset":0.067,"color":"transparent"},{"offset":0.167,"color":"transparent"},{"offset":0.2,"color":"#333"},{"offset":0.233,"color":"transparent"},{"offset":0.333,"color":"transparent"},{"offset":0.367,"color":"#333"},{"offset":0.4,"color":"transparent"},{"offset":0.5,"color":"transparent"},{"offset":0.533,"color":"#333"},{"offset":0.567,"color":"transparent"},{"offset":0.667,"color":"transparent"},{"offset":0.7,"color":"#333"},{"offset":0.733,"color":"transparent"},{"offset":0.833,"color":"transparent"},{"offset":0.867,"color":"#333"},{"offset":0.9,"color":"transparent"}]}}, "encoding": {"x": {"datum": -28.8, "type": "quantitative"}, "x2": {"datum": -23.4}, "y": {"datum": 25.8, "type": "quantitative"}, "y2": {"datum": 23.3}}},
   {"data": {"name": "one"}, "mark": {"type": "text", "text": "RE", "align": "left", "baseline": "middle", "fontSize": 5.6, "color": "#333"}, "encoding": {"x": {"datum": -22.7, "type": "quantitative"}, "y": {"datum": 25.1, "type": "quantitative"}}},
   {"data": {"name": "one"}, "mark": {"type": "text", "text": "SEEN BY", "align": "center", "baseline": "middle", "fontSize": 5.6, "color": "#333"}, "encoding": {"x": {"datum": 24.3, "type": "quantitative"}, "y": {"datum": 30.2, "type": "quantitative"}}},
   {"data": {"name": "one"}, "mark": {"type": "text", "text": "Both", "align": "right", "baseline": "middle", "fontSize": 6.5, "color": "#333"}, "encoding": {"x": {"datum": 23.9, "type": "quantitative"}, "y": {"datum": 26.8, "type": "quantitative"}}},
   {"data": {"name": "one"}, "mark": {"type": "rect", "fill": {"gradient": "linear", "x1": 0, "y1": 1, "x2": 1.2, "y2": 0.45, "stops": [{"offset":0,"color":"transparent"},{"offset":0.033,"color":"#333"},{"offset":0.067,"color":"transparent"},{"offset":0.167,"color":"transparent"},{"offset":0.2,"color":"#333"},{"offset":0.233,"color":"transparent"},{"offset":0.333,"color":"transparent"},{"offset":0.367,"color":"#333"},{"offset":0.4,"color":"transparent"},{"offset":0.5,"color":"transparent"},{"offset":0.533,"color":"#333"},{"offset":0.567,"color":"transparent"},{"offset":0.667,"color":"transparent"},{"offset":0.7,"color":"#333"},{"offset":0.733,"color":"transparent"},{"offset":0.833,"color":"transparent"},{"offset":0.867,"color":"#333"},{"offset":0.9,"color":"transparent"}]}}, "encoding": {"x": {"datum": 24.8, "type": "quantitative"}, "x2": {"datum": 30.3}, "y": {"datum": 27.9, "type": "quantitative"}, "y2": {"datum": 25.4}}},
   {"data": {"name": "one"}, "mark": {"type": "rect", "fill": {"gradient": "linear", "x1": 0, "y1": 0, "x2": 1.2, "y2": 0.55, "stops": [{"offset":0,"color":"transparent"},{"offset":0.033,"color":"#333"},{"offset":0.067,"color":"transparent"},{"offset":0.167,"color":"transparent"},{"offset":0.2,"color":"#333"},{"offset":0.233,"color":"transparent"},{"offset":0.333,"color":"transparent"},{"offset":0.367,"color":"#333"},{"offset":0.4,"color":"transparent"},{"offset":0.5,"color":"transparent"},{"offset":0.533,"color":"#333"},{"offset":0.567,"color":"transparent"},{"offset":0.667,"color":"transparent"},{"offset":0.7,"color":"#333"},{"offset":0.733,"color":"transparent"},{"offset":0.833,"color":"transparent"},{"offset":0.867,"color":"#333"},{"offset":0.9,"color":"transparent"}]}}, "encoding": {"x": {"datum": 24.8, "type": "quantitative"}, "x2": {"datum": 30.3}, "y": {"datum": 27.9, "type": "quantitative"}, "y2": {"datum": 25.4}}},
   {"data": {"name": "one"}, "mark": {"type": "rect", "fill": "white", "stroke": "#666", "strokeWidth": 0.8}, "encoding": {"x": {"datum": -30.3, "type": "quantitative"}, "x2": {"datum": -9.4}, "y": {"datum": -19.2, "type": "quantitative"}, "y2": {"datum": -29.7}}},
   {"data": {"name": "one"}, "mark": {"type": "text", "text": "Diplopic 0/2 Trials", "align": "left", "baseline": "middle", "fontSize": 6.3, "color": "#333"}, "encoding": {"x": {"datum": -28.3, "type": "quantitative"}, "y": {"datum": -21.4, "type": "quantitative"}}},
   {"data": {"name": "one"}, "mark": {"type": "text", "text": "Diplopic 1/2 Trials", "align": "left", "baseline": "middle", "fontSize": 6.3, "color": "#333"}, "encoding": {"x": {"datum": -28.3, "type": "quantitative"}, "y": {"datum": -24.4, "type": "quantitative"}}},
   {"data": {"name": "one"}, "mark": {"type": "text", "text": "Diplopic 2/2 Trials", "align": "left", "baseline": "middle", "fontSize": 6.3, "color": "#333"}, "encoding": {"x": {"datum": -28.3, "type": "quantitative"}, "y": {"datum": -27.4, "type": "quantitative"}}},
   {"data": {"name": "one"}, "mark": {"type": "point", "shape": "circle", "filled": true, "fill": "#ffffff", "stroke": "#000", "strokeWidth": 0.8, "size": 36, "opacity": 1}, "encoding": {"x": {"datum": -11.7, "type": "quantitative"}, "y": {"datum": -21.4, "type": "quantitative"}}},
   {"data": {"name": "one"}, "mark": {"type": "point", "shape": "circle", "filled": true, "fill": "#8c8c8c", "stroke": "#000", "strokeWidth": 0.8, "size": 36, "opacity": 1}, "encoding": {"x": {"datum": -11.7, "type": "quantitative"}, "y": {"datum": -24.4, "type": "quantitative"}}},
   {"data": {"name": "one"}, "mark": {"type": "point", "shape": "circle", "filled": true, "fill": "#000000", "stroke": "#000", "strokeWidth": 0.8, "size": 36, "opacity": 1}, "encoding": {"x": {"datum": -11.7, "type": "quantitative"}, "y": {"datum": -27.4, "type": "quantitative"}}},
   {"data": {"name": "one"}, "mark": {"type": "text", "text": "b", "align": "center", "baseline": "middle", "fontSize": 19, "font": "Liberation Serif", "color": "#000"}, "encoding": {"x": {"datum": 0, "type": "quantitative"}, "y": {"datum": -34.1, "type": "quantitative"}}}
  ]}
 ]},
 {"spacing": 0, "bounds": "flush", "hconcat": [
  {"width": 95, "height": 231, "data": {"name": "one"}, "mark": {"type": "text", "text": "Patient 2", "font": "Liberation Serif", "fontWeight": "bold", "fontSize": 19, "align": "center", "baseline": "middle"},
   "encoding": {"x": {"datum": 0.48, "type": "quantitative", "scale": {"domain": [0, 1]}}, "y": {"datum": 0.524, "type": "quantitative", "scale": {"domain": [0, 1]}}}},
  {"width": 320, "height": 231, "layer": [
   {"data": {"name": "rings"}, "mark": {"type": "point", "shape": "circle", "filled": false, "stroke": "#333", "strokeWidth": 0.8, "opacity": 1},
    "encoding": {"x": {"datum": 0, "type": "quantitative", "scale": {"domain": [-47.353, 46.765], "nice": false, "zero": false}}, "y": {"datum": 0, "type": "quantitative", "scale": {"domain": [-36.765, 31.176], "nice": false, "zero": false}}, "size": {"field": "r", "type": "quantitative", "scale": {"type": "pow", "exponent": 2, "domain": [0, 30], "range": [0, 41616]}}}},
   {"data": {"name": "spokes"}, "mark": {"type": "rule", "stroke": "#333", "strokeWidth": 0.7}, "encoding": {"x": {"field": "x", "type": "quantitative"}, "y": {"field": "y", "type": "quantitative"}, "x2": {"field": "x2"}, "y2": {"field": "y2"}}},
   {"data": {"name": "c"}, "transform": [{"filter": "datum.s == 'LE'"}], "mark": {"type": "line", "style": "hatchLE", "stroke": "#3a3aff", "strokeWidth": 0.8, "interpolate": "linear-closed"}, "encoding": {"x": {"field": "x", "type": "quantitative"}, "y": {"field": "y", "type": "quantitative"}, "order": {"value": null}}},
   {"data": {"name": "c"}, "transform": [{"filter": "datum.s == 'RE'"}], "mark": {"type": "line", "style": "hatchRE", "stroke": "#ff3a3a", "strokeWidth": 0.8, "interpolate": "linear-closed"}, "encoding": {"x": {"field": "x", "type": "quantitative"}, "y": {"field": "y", "type": "quantitative"}, "order": {"value": null}}},
   {"data": {"name": "c"}, "transform": [{"filter": "datum.s == 'LE'"}], "mark": {"type": "point", "shape": "diamond", "filled": true, "color": "#1010ff", "size": 28, "opacity": 1}, "encoding": {"x": {"field": "x", "type": "quantitative"}, "y": {"field": "y", "type": "quantitative"}}},
   {"data": {"name": "c"}, "transform": [{"filter": "datum.s == 'RE'"}], "mark": {"type": "point", "shape": "diamond", "filled": true, "color": "#ff1010", "size": 28, "opacity": 1}, "encoding": {"x": {"field": "x", "type": "quantitative"}, "y": {"field": "y", "type": "quantitative"}}},
   {"data": {"name": "rings"}, "mark": {"type": "text", "align": "right", "baseline": "middle", "fontSize": 15, "color": "#222"}, "encoding": {"x": {"field": "r", "type": "quantitative"}, "y": {"datum": 0, "type": "quantitative"}, "text": {"field": "r"}}},
   {"data": {"name": "c"}, "transform": [{"filter": "datum.s == 'T'"}], "mark": {"type": "point", "shape": "circle", "filled": true, "stroke": "#000", "strokeWidth": 0.8, "size": 36, "opacity": 1}, "encoding": {"x": {"field": "x", "type": "quantitative"}, "y": {"field": "y", "type": "quantitative"}, "fill": {"field": "d", "type": "nominal", "scale": {"domain": ["0/2", "1/2", "2/2"], "range": ["#ffffff", "#8c8c8c", "#000000"]}}}},
   {"data": {"name": "one"}, "mark": {"type": "text", "text": "SEEN ONLY BY", "align": "left", "baseline": "middle", "fontSize": 5.6, "color": "#333"}, "encoding": {"x": {"datum": -30.1, "type": "quantitative"}, "y": {"datum": 30.3, "type": "quantitative"}}},
   {"data": {"name": "one"}, "mark": {"type": "rect", "fill": {"gradient": "linear", "x1": 0, "y1": 1, "x2": 1.2, "y2": 0.45, "stops": [{"offset":0,"color":"transparent"},{"offset":0.033,"color":"#333"},{"offset":0.067,"color":"transparent"},{"offset":0.167,"color":"transparent"},{"offset":0.2,"color":"#333"},{"offset":0.233,"color":"transparent"},{"offset":0.333,"color":"transparent"},{"offset":0.367,"color":"#333"},{"offset":0.4,"color":"transparent"},{"offset":0.5,"color":"transparent"},{"offset":0.533,"color":"#333"},{"offset":0.567,"color":"transparent"},{"offset":0.667,"color":"transparent"},{"offset":0.7,"color":"#333"},{"offset":0.733,"color":"transparent"},{"offset":0.833,"color":"transparent"},{"offset":0.867,"color":"#333"},{"offset":0.9,"color":"transparent"}]}}, "encoding": {"x": {"datum": -28.8, "type": "quantitative"}, "x2": {"datum": -23.4}, "y": {"datum": 28.7, "type": "quantitative"}, "y2": {"datum": 26.3}}},
   {"data": {"name": "one"}, "mark": {"type": "text", "text": "LE", "align": "left", "baseline": "middle", "fontSize": 5.6, "color": "#333"}, "encoding": {"x": {"datum": -22.9, "type": "quantitative"}, "y": {"datum": 28.6, "type": "quantitative"}}},
   {"data": {"name": "one"}, "mark": {"type": "rect", "fill": {"gradient": "linear", "x1": 0, "y1": 0, "x2": 1.2, "y2": 0.55, "stops": [{"offset":0,"color":"transparent"},{"offset":0.033,"color":"#333"},{"offset":0.067,"color":"transparent"},{"offset":0.167,"color":"transparent"},{"offset":0.2,"color":"#333"},{"offset":0.233,"color":"transparent"},{"offset":0.333,"color":"transparent"},{"offset":0.367,"color":"#333"},{"offset":0.4,"color":"transparent"},{"offset":0.5,"color":"transparent"},{"offset":0.533,"color":"#333"},{"offset":0.567,"color":"transparent"},{"offset":0.667,"color":"transparent"},{"offset":0.7,"color":"#333"},{"offset":0.733,"color":"transparent"},{"offset":0.833,"color":"transparent"},{"offset":0.867,"color":"#333"},{"offset":0.9,"color":"transparent"}]}}, "encoding": {"x": {"datum": -28.8, "type": "quantitative"}, "x2": {"datum": -23.4}, "y": {"datum": 25.8, "type": "quantitative"}, "y2": {"datum": 23.3}}},
   {"data": {"name": "one"}, "mark": {"type": "text", "text": "RE", "align": "left", "baseline": "middle", "fontSize": 5.6, "color": "#333"}, "encoding": {"x": {"datum": -22.7, "type": "quantitative"}, "y": {"datum": 25.1, "type": "quantitative"}}},
   {"data": {"name": "one"}, "mark": {"type": "text", "text": "SEEN BY", "align": "center", "baseline": "middle", "fontSize": 5.6, "color": "#333"}, "encoding": {"x": {"datum": 24.3, "type": "quantitative"}, "y": {"datum": 30.2, "type": "quantitative"}}},
   {"data": {"name": "one"}, "mark": {"type": "text", "text": "Both", "align": "right", "baseline": "middle", "fontSize": 6.5, "color": "#333"}, "encoding": {"x": {"datum": 23.9, "type": "quantitative"}, "y": {"datum": 26.8, "type": "quantitative"}}},
   {"data": {"name": "one"}, "mark": {"type": "rect", "fill": {"gradient": "linear", "x1": 0, "y1": 1, "x2": 1.2, "y2": 0.45, "stops": [{"offset":0,"color":"transparent"},{"offset":0.033,"color":"#333"},{"offset":0.067,"color":"transparent"},{"offset":0.167,"color":"transparent"},{"offset":0.2,"color":"#333"},{"offset":0.233,"color":"transparent"},{"offset":0.333,"color":"transparent"},{"offset":0.367,"color":"#333"},{"offset":0.4,"color":"transparent"},{"offset":0.5,"color":"transparent"},{"offset":0.533,"color":"#333"},{"offset":0.567,"color":"transparent"},{"offset":0.667,"color":"transparent"},{"offset":0.7,"color":"#333"},{"offset":0.733,"color":"transparent"},{"offset":0.833,"color":"transparent"},{"offset":0.867,"color":"#333"},{"offset":0.9,"color":"transparent"}]}}, "encoding": {"x": {"datum": 24.8, "type": "quantitative"}, "x2": {"datum": 30.3}, "y": {"datum": 27.9, "type": "quantitative"}, "y2": {"datum": 25.4}}},
   {"data": {"name": "one"}, "mark": {"type": "rect", "fill": {"gradient": "linear", "x1": 0, "y1": 0, "x2": 1.2, "y2": 0.55, "stops": [{"offset":0,"color":"transparent"},{"offset":0.033,"color":"#333"},{"offset":0.067,"color":"transparent"},{"offset":0.167,"color":"transparent"},{"offset":0.2,"color":"#333"},{"offset":0.233,"color":"transparent"},{"offset":0.333,"color":"transparent"},{"offset":0.367,"color":"#333"},{"offset":0.4,"color":"transparent"},{"offset":0.5,"color":"transparent"},{"offset":0.533,"color":"#333"},{"offset":0.567,"color":"transparent"},{"offset":0.667,"color":"transparent"},{"offset":0.7,"color":"#333"},{"offset":0.733,"color":"transparent"},{"offset":0.833,"color":"transparent"},{"offset":0.867,"color":"#333"},{"offset":0.9,"color":"transparent"}]}}, "encoding": {"x": {"datum": 24.8, "type": "quantitative"}, "x2": {"datum": 30.3}, "y": {"datum": 27.9, "type": "quantitative"}, "y2": {"datum": 25.4}}},
   {"data": {"name": "one"}, "mark": {"type": "rect", "fill": "white", "stroke": "#666", "strokeWidth": 0.8}, "encoding": {"x": {"datum": -30.3, "type": "quantitative"}, "x2": {"datum": -9.4}, "y": {"datum": -19.2, "type": "quantitative"}, "y2": {"datum": -29.7}}},
   {"data": {"name": "one"}, "mark": {"type": "text", "text": "Diplopic 0/2 Trials", "align": "left", "baseline": "middle", "fontSize": 6.3, "color": "#333"}, "encoding": {"x": {"datum": -28.3, "type": "quantitative"}, "y": {"datum": -21.4, "type": "quantitative"}}},
   {"data": {"name": "one"}, "mark": {"type": "text", "text": "Diplopic 1/2 Trials", "align": "left", "baseline": "middle", "fontSize": 6.3, "color": "#333"}, "encoding": {"x": {"datum": -28.3, "type": "quantitative"}, "y": {"datum": -24.4, "type": "quantitative"}}},
   {"data": {"name": "one"}, "mark": {"type": "text", "text": "Diplopic 2/2 Trials", "align": "left", "baseline": "middle", "fontSize": 6.3, "color": "#333"}, "encoding": {"x": {"datum": -28.3, "type": "quantitative"}, "y": {"datum": -27.4, "type": "quantitative"}}},
   {"data": {"name": "one"}, "mark": {"type": "point", "shape": "circle", "filled": true, "fill": "#ffffff", "stroke": "#000", "strokeWidth": 0.8, "size": 36, "opacity": 1}, "encoding": {"x": {"datum": -11.7, "type": "quantitative"}, "y": {"datum": -21.4, "type": "quantitative"}}},
   {"data": {"name": "one"}, "mark": {"type": "point", "shape": "circle", "filled": true, "fill": "#8c8c8c", "stroke": "#000", "strokeWidth": 0.8, "size": 36, "opacity": 1}, "encoding": {"x": {"datum": -11.7, "type": "quantitative"}, "y": {"datum": -24.4, "type": "quantitative"}}},
   {"data": {"name": "one"}, "mark": {"type": "point", "shape": "circle", "filled": true, "fill": "#000000", "stroke": "#000", "strokeWidth": 0.8, "size": 36, "opacity": 1}, "encoding": {"x": {"datum": -11.7, "type": "quantitative"}, "y": {"datum": -27.4, "type": "quantitative"}}},
   {"data": {"name": "one"}, "mark": {"type": "text", "text": "c", "align": "center", "baseline": "middle", "fontSize": 19, "font": "Liberation Serif", "color": "#000"}, "encoding": {"x": {"datum": 0, "type": "quantitative"}, "y": {"datum": -34.1, "type": "quantitative"}}}
  ]},
  {"width": 332, "height": 231, "layer": [
   {"data": {"name": "rings"}, "mark": {"type": "point", "shape": "circle", "filled": false, "stroke": "#333", "strokeWidth": 0.8, "opacity": 1},
    "encoding": {"x": {"datum": 0, "type": "quantitative", "scale": {"domain": [-49.118, 48.529], "nice": false, "zero": false}}, "y": {"datum": 0, "type": "quantitative", "scale": {"domain": [-36.765, 31.176], "nice": false, "zero": false}}, "size": {"field": "r", "type": "quantitative", "scale": {"type": "pow", "exponent": 2, "domain": [0, 30], "range": [0, 41616]}}}},
   {"data": {"name": "spokes"}, "mark": {"type": "rule", "stroke": "#333", "strokeWidth": 0.7}, "encoding": {"x": {"field": "x", "type": "quantitative"}, "y": {"field": "y", "type": "quantitative"}, "x2": {"field": "x2"}, "y2": {"field": "y2"}}},
   {"data": {"name": "d"}, "transform": [{"filter": "datum.s == 'LE'"}], "mark": {"type": "line", "style": "hatchLE", "stroke": "#3a3aff", "strokeWidth": 0.8, "interpolate": "linear-closed"}, "encoding": {"x": {"field": "x", "type": "quantitative"}, "y": {"field": "y", "type": "quantitative"}, "order": {"value": null}}},
   {"data": {"name": "d"}, "transform": [{"filter": "datum.s == 'RE'"}], "mark": {"type": "line", "style": "hatchRE", "stroke": "#ff3a3a", "strokeWidth": 0.8, "interpolate": "linear-closed"}, "encoding": {"x": {"field": "x", "type": "quantitative"}, "y": {"field": "y", "type": "quantitative"}, "order": {"value": null}}},
   {"data": {"name": "d"}, "transform": [{"filter": "datum.s == 'LE'"}], "mark": {"type": "point", "shape": "diamond", "filled": true, "color": "#1010ff", "size": 28, "opacity": 1}, "encoding": {"x": {"field": "x", "type": "quantitative"}, "y": {"field": "y", "type": "quantitative"}}},
   {"data": {"name": "d"}, "transform": [{"filter": "datum.s == 'RE'"}], "mark": {"type": "point", "shape": "diamond", "filled": true, "color": "#ff1010", "size": 28, "opacity": 1}, "encoding": {"x": {"field": "x", "type": "quantitative"}, "y": {"field": "y", "type": "quantitative"}}},
   {"data": {"name": "rings"}, "mark": {"type": "text", "align": "right", "baseline": "middle", "fontSize": 15, "color": "#222"}, "encoding": {"x": {"field": "r", "type": "quantitative"}, "y": {"datum": 0, "type": "quantitative"}, "text": {"field": "r"}}},
   {"data": {"name": "d"}, "transform": [{"filter": "datum.s == 'T'"}], "mark": {"type": "point", "shape": "circle", "filled": true, "stroke": "#000", "strokeWidth": 0.8, "size": 36, "opacity": 1}, "encoding": {"x": {"field": "x", "type": "quantitative"}, "y": {"field": "y", "type": "quantitative"}, "fill": {"field": "d", "type": "nominal", "scale": {"domain": ["0/2", "1/2", "2/2"], "range": ["#ffffff", "#8c8c8c", "#000000"]}}}},
   {"data": {"name": "one"}, "mark": {"type": "text", "text": "SEEN ONLY BY", "align": "left", "baseline": "middle", "fontSize": 5.6, "color": "#333"}, "encoding": {"x": {"datum": -30.1, "type": "quantitative"}, "y": {"datum": 30.3, "type": "quantitative"}}},
   {"data": {"name": "one"}, "mark": {"type": "rect", "fill": {"gradient": "linear", "x1": 0, "y1": 1, "x2": 1.2, "y2": 0.45, "stops": [{"offset":0,"color":"transparent"},{"offset":0.033,"color":"#333"},{"offset":0.067,"color":"transparent"},{"offset":0.167,"color":"transparent"},{"offset":0.2,"color":"#333"},{"offset":0.233,"color":"transparent"},{"offset":0.333,"color":"transparent"},{"offset":0.367,"color":"#333"},{"offset":0.4,"color":"transparent"},{"offset":0.5,"color":"transparent"},{"offset":0.533,"color":"#333"},{"offset":0.567,"color":"transparent"},{"offset":0.667,"color":"transparent"},{"offset":0.7,"color":"#333"},{"offset":0.733,"color":"transparent"},{"offset":0.833,"color":"transparent"},{"offset":0.867,"color":"#333"},{"offset":0.9,"color":"transparent"}]}}, "encoding": {"x": {"datum": -28.8, "type": "quantitative"}, "x2": {"datum": -23.4}, "y": {"datum": 28.7, "type": "quantitative"}, "y2": {"datum": 26.3}}},
   {"data": {"name": "one"}, "mark": {"type": "text", "text": "LE", "align": "left", "baseline": "middle", "fontSize": 5.6, "color": "#333"}, "encoding": {"x": {"datum": -22.9, "type": "quantitative"}, "y": {"datum": 28.6, "type": "quantitative"}}},
   {"data": {"name": "one"}, "mark": {"type": "rect", "fill": {"gradient": "linear", "x1": 0, "y1": 0, "x2": 1.2, "y2": 0.55, "stops": [{"offset":0,"color":"transparent"},{"offset":0.033,"color":"#333"},{"offset":0.067,"color":"transparent"},{"offset":0.167,"color":"transparent"},{"offset":0.2,"color":"#333"},{"offset":0.233,"color":"transparent"},{"offset":0.333,"color":"transparent"},{"offset":0.367,"color":"#333"},{"offset":0.4,"color":"transparent"},{"offset":0.5,"color":"transparent"},{"offset":0.533,"color":"#333"},{"offset":0.567,"color":"transparent"},{"offset":0.667,"color":"transparent"},{"offset":0.7,"color":"#333"},{"offset":0.733,"color":"transparent"},{"offset":0.833,"color":"transparent"},{"offset":0.867,"color":"#333"},{"offset":0.9,"color":"transparent"}]}}, "encoding": {"x": {"datum": -28.8, "type": "quantitative"}, "x2": {"datum": -23.4}, "y": {"datum": 25.8, "type": "quantitative"}, "y2": {"datum": 23.3}}},
   {"data": {"name": "one"}, "mark": {"type": "text", "text": "RE", "align": "left", "baseline": "middle", "fontSize": 5.6, "color": "#333"}, "encoding": {"x": {"datum": -22.7, "type": "quantitative"}, "y": {"datum": 25.1, "type": "quantitative"}}},
   {"data": {"name": "one"}, "mark": {"type": "text", "text": "SEEN BY", "align": "center", "baseline": "middle", "fontSize": 5.6, "color": "#333"}, "encoding": {"x": {"datum": 24.3, "type": "quantitative"}, "y": {"datum": 30.2, "type": "quantitative"}}},
   {"data": {"name": "one"}, "mark": {"type": "text", "text": "Both", "align": "right", "baseline": "middle", "fontSize": 6.5, "color": "#333"}, "encoding": {"x": {"datum": 23.9, "type": "quantitative"}, "y": {"datum": 26.8, "type": "quantitative"}}},
   {"data": {"name": "one"}, "mark": {"type": "rect", "fill": {"gradient": "linear", "x1": 0, "y1": 1, "x2": 1.2, "y2": 0.45, "stops": [{"offset":0,"color":"transparent"},{"offset":0.033,"color":"#333"},{"offset":0.067,"color":"transparent"},{"offset":0.167,"color":"transparent"},{"offset":0.2,"color":"#333"},{"offset":0.233,"color":"transparent"},{"offset":0.333,"color":"transparent"},{"offset":0.367,"color":"#333"},{"offset":0.4,"color":"transparent"},{"offset":0.5,"color":"transparent"},{"offset":0.533,"color":"#333"},{"offset":0.567,"color":"transparent"},{"offset":0.667,"color":"transparent"},{"offset":0.7,"color":"#333"},{"offset":0.733,"color":"transparent"},{"offset":0.833,"color":"transparent"},{"offset":0.867,"color":"#333"},{"offset":0.9,"color":"transparent"}]}}, "encoding": {"x": {"datum": 24.8, "type": "quantitative"}, "x2": {"datum": 30.3}, "y": {"datum": 27.9, "type": "quantitative"}, "y2": {"datum": 25.4}}},
   {"data": {"name": "one"}, "mark": {"type": "rect", "fill": {"gradient": "linear", "x1": 0, "y1": 0, "x2": 1.2, "y2": 0.55, "stops": [{"offset":0,"color":"transparent"},{"offset":0.033,"color":"#333"},{"offset":0.067,"color":"transparent"},{"offset":0.167,"color":"transparent"},{"offset":0.2,"color":"#333"},{"offset":0.233,"color":"transparent"},{"offset":0.333,"color":"transparent"},{"offset":0.367,"color":"#333"},{"offset":0.4,"color":"transparent"},{"offset":0.5,"color":"transparent"},{"offset":0.533,"color":"#333"},{"offset":0.567,"color":"transparent"},{"offset":0.667,"color":"transparent"},{"offset":0.7,"color":"#333"},{"offset":0.733,"color":"transparent"},{"offset":0.833,"color":"transparent"},{"offset":0.867,"color":"#333"},{"offset":0.9,"color":"transparent"}]}}, "encoding": {"x": {"datum": 24.8, "type": "quantitative"}, "x2": {"datum": 30.3}, "y": {"datum": 27.9, "type": "quantitative"}, "y2": {"datum": 25.4}}},
   {"data": {"name": "one"}, "mark": {"type": "rect", "fill": "white", "stroke": "#666", "strokeWidth": 0.8}, "encoding": {"x": {"datum": -30.3, "type": "quantitative"}, "x2": {"datum": -9.4}, "y": {"datum": -19.2, "type": "quantitative"}, "y2": {"datum": -29.7}}},
   {"data": {"name": "one"}, "mark": {"type": "text", "text": "Diplopic 0/2 Trials", "align": "left", "baseline": "middle", "fontSize": 6.3, "color": "#333"}, "encoding": {"x": {"datum": -28.3, "type": "quantitative"}, "y": {"datum": -21.4, "type": "quantitative"}}},
   {"data": {"name": "one"}, "mark": {"type": "text", "text": "Diplopic 1/2 Trials", "align": "left", "baseline": "middle", "fontSize": 6.3, "color": "#333"}, "encoding": {"x": {"datum": -28.3, "type": "quantitative"}, "y": {"datum": -24.4, "type": "quantitative"}}},
   {"data": {"name": "one"}, "mark": {"type": "text", "text": "Diplopic 2/2 Trials", "align": "left", "baseline": "middle", "fontSize": 6.3, "color": "#333"}, "encoding": {"x": {"datum": -28.3, "type": "quantitative"}, "y": {"datum": -27.4, "type": "quantitative"}}},
   {"data": {"name": "one"}, "mark": {"type": "point", "shape": "circle", "filled": true, "fill": "#ffffff", "stroke": "#000", "strokeWidth": 0.8, "size": 36, "opacity": 1}, "encoding": {"x": {"datum": -11.7, "type": "quantitative"}, "y": {"datum": -21.4, "type": "quantitative"}}},
   {"data": {"name": "one"}, "mark": {"type": "point", "shape": "circle", "filled": true, "fill": "#8c8c8c", "stroke": "#000", "strokeWidth": 0.8, "size": 36, "opacity": 1}, "encoding": {"x": {"datum": -11.7, "type": "quantitative"}, "y": {"datum": -24.4, "type": "quantitative"}}},
   {"data": {"name": "one"}, "mark": {"type": "point", "shape": "circle", "filled": true, "fill": "#000000", "stroke": "#000", "strokeWidth": 0.8, "size": 36, "opacity": 1}, "encoding": {"x": {"datum": -11.7, "type": "quantitative"}, "y": {"datum": -27.4, "type": "quantitative"}}},
   {"data": {"name": "one"}, "mark": {"type": "text", "text": "d", "align": "center", "baseline": "middle", "fontSize": 19, "font": "Liberation Serif", "color": "#000"}, "encoding": {"x": {"datum": 0, "type": "quantitative"}, "y": {"datum": -34.1, "type": "quantitative"}}}
  ]}
 ]}
]
}
